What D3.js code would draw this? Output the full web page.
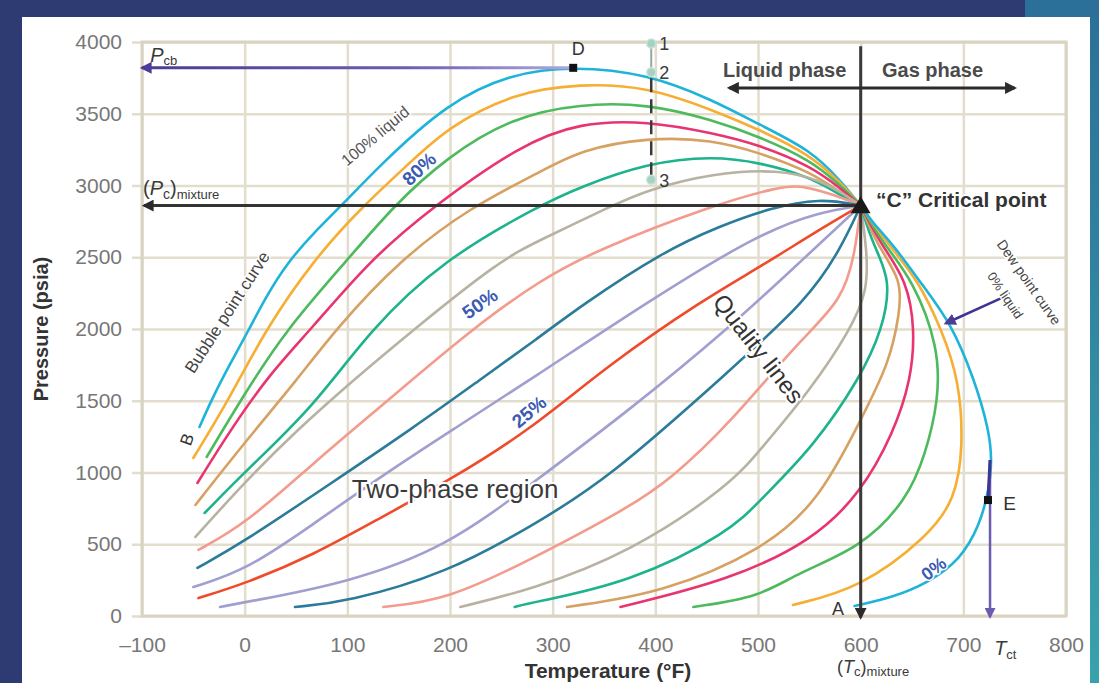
<!DOCTYPE html>
<html>
<head>
<meta charset="utf-8">
<script src="https://cdn.jsdelivr.net/npm/d3@7"></script>
<style>
  html, body { margin: 0; padding: 0; background: #2e3a72; overflow: hidden; }
  svg { display: block; font-family: "Liberation Sans", Arial, sans-serif; }
</style>
</head>
<body>
<svg id="chart" width="1099" height="683"></svg>
<script>
// ---- data (temperature in °F, pressure in psia) ----
const tempTicks = [-100, 0, 100, 200, 300, 400, 500, 600, 700, 800];
const pressTicks = [0, 500, 1000, 1500, 2000, 2500, 3000, 3500, 4000];

const critPoint = [600, 2860];
const pointD = [320, 3820];
const pointE = [724, 808];
const cricondentherm = 726;
const isoT = 396;
const isoPoints = [["1", 3990], ["2", 3790], ["3", 3040]];

// quality lines: each runs from its low end up to the critical point
const qBubble = [[-44,1317],[-31,1526],[-14,1760],[4,1993],[20,2216],[42,2467],[68,2676],[93,2850],[132,3143],[197,3575],[261,3784],[320,3830],[392,3780],[456,3596],[502,3422],[551,3248],[580,3038]];
const q02 = [[-50,1101],[-14,1526],[20,1993],[67,2481],[114,2850],[164,3178],[197,3400],[261,3645],[327,3710],[392,3690],[456,3526],[502,3387],[551,3213],[580,3024]];
const q03 = [[-37,1108],[-2,1527],[40,1993],[100,2481],[144,2850],[197,3199],[261,3477],[327,3570],[392,3570],[456,3457],[502,3338],[551,3178],[580,3004]];
const q04 = [[-46,927],[-14,1296],[25,1693],[64,1993],[122,2481],[183,2850],[268,3282],[327,3440],[392,3450],[456,3366],[502,3282],[551,3136],[580,2983]];
const q05 = [[-48,774],[2,1227],[51,1645],[88,1993],[151,2481],[220,2850],[288,3094],[327,3248],[392,3335],[456,3320],[502,3227],[551,3094],[580,2955]];
const q06 = [[-39,718],[2,1017],[67,1457],[122,1993],[193,2481],[288,2864],[327,2990],[392,3157],[456,3205],[502,3160],[551,3059],[580,2934]];
const q07 = [[-48,551],[2,948],[51,1296],[106,1645],[164,1993],[249,2481],[288,2620],[359,2864],[392,2969],[456,3087],[521,3112],[560,3038],[585,2934]];
const q08 = [[-45,460],[2,648],[67,1066],[132,1457],[220,1993],[288,2342],[343,2551],[456,2864],[521,2990],[541,3004],[575,2934]];
const q09 = [[-46,335],[2,530],[83,920],[164,1310],[229,1645],[286,1937],[327,2160],[407,2537],[463,2718],[512,2843],[560,2913]];
const q10 = [[-50,202],[2,321],[67,641],[132,969],[205,1310],[278,1645],[395,2202],[502,2669],[560,2815]];
const q11 = [[-45,125],[2,230],[67,425],[132,683],[200,948],[278,1296],[354,1749],[446,2202],[502,2432],[556,2676]];
const q12 = [[-24,63],[2,98],[100,230],[197,481],[278,913],[375,1436],[473,2014],[541,2467]];
const q13 = [[49,63],[100,98],[197,300],[278,620],[353,948],[473,1714],[548,2202],[580,2551]];
const q14 = [[135,63],[197,112],[278,390],[375,760],[414,948],[473,1345],[538,1903],[583,2202],[595,2551]];
const q15 = [[210,63],[278,181],[375,439],[473,913],[502,1157],[551,1575],[590,1993],[607,2272],[606,2551]];
const q16 = [[263,63],[278,91],[375,230],[473,585],[502,808],[554,1178],[600,1666],[621,1993],[630,2342],[612,2585]];
const q17 = [[314,63],[407,160],[505,460],[560,808],[600,1366],[628,1763],[638,2112],[640,2342],[616,2585]];
const q18 = [[366,63],[473,251],[554,530],[600,857],[632,1275],[649,1645],[653,1993],[645,2342],[620,2585]];
const q19 = [[437,63],[502,132],[538,300],[600,474],[645,808],[663,1122],[676,1505],[676,1875],[651,2342],[623,2585]];
const q20 = [[534,77],[600,195],[665,551],[692,808],[700,1178],[696,1645],[679,1993],[656,2342],[627,2585]];
const qDew = [[594,70],[632,132],[665,230],[697,390],[716,634],[725,878],[728,1087],[725,1296],[711,1645],[688,2042],[660,2307],[632,2585],[611,2746]];

const qualityLines = [qBubble, q02, q03, q04, q05, q06, q07, q08, q09, q10, q11,
                      q12, q13, q14, q15, q16, q17, q18, q19, q20, qDew];
const lineColors = ["#1eb4da", "#f6ae34", "#4dba5e", "#e83570", "#d6a163", "#1db38c", "#b8b2a2",
                    "#f39b8c", "#2b7b9a", "#a09fd0", "#ef4b2b", "#a09fd0", "#2b7b9a", "#f39b8c",
                    "#b8b2a2", "#1db38c", "#d6a163", "#e83570", "#4dba5e", "#f6ae34", "#1eb4da"];

// ---- layout ----
const svg = d3.select("#chart");
const x = d3.scaleLinear().domain([-100, 800]).range([142, 1066]);
const y = d3.scaleLinear().domain([0, 4000]).range([616, 42]);

const defs = svg.append("defs");
const teal = defs.append("linearGradient").attr("id", "teal")
  .attr("x1", 0).attr("y1", 0).attr("x2", 0).attr("y2", 1);
teal.append("stop").attr("offset", "0%").attr("stop-color", "#2b6f99");
teal.append("stop").attr("offset", "100%").attr("stop-color", "#38a2ab");

const pcbGrad = defs.append("linearGradient").attr("id", "pcbGrad")
  .attr("gradientUnits", "userSpaceOnUse")
  .attr("x1", x(-100)).attr("x2", x(pointD[0])).attr("y1", 0).attr("y2", 0);
pcbGrad.append("stop").attr("offset", "0%").attr("stop-color", "#4a3c98");
pcbGrad.append("stop").attr("offset", "60%").attr("stop-color", "#6a5cae");
pcbGrad.append("stop").attr("offset", "100%").attr("stop-color", "#b3a8d8");

const arrow = (id, color, s) => {
  defs.append("marker").attr("id", id)
    .attr("viewBox", "0 0 10 10").attr("refX", 8).attr("refY", 5)
    .attr("markerUnits", "userSpaceOnUse")
    .attr("markerWidth", s).attr("markerHeight", s)
    .attr("orient", "auto-start-reverse")
    .append("path").attr("d", "M0,0 L10,5 L0,10 z").attr("fill", color);
};
arrow("arBlack", "#2b2b2b", 12);
arrow("arPurple", "#4a3c98", 12);
arrow("arViolet", "#6a5cae", 11);

// background panels
svg.append("rect").attr("x", 1025).attr("y", 0).attr("width", 74).attr("height", 683).attr("fill", "url(#teal)");
svg.append("rect").attr("x", 22).attr("y", 17).attr("width", 1068).attr("height", 666).attr("fill", "#ffffff");

// grid
const grid = svg.append("g");
grid.append("g")
  .attr("transform", `translate(0,${y(0)})`)
  .call(d3.axisBottom(x).tickValues(tempTicks).tickSize(-(y(0) - y(4000))).tickFormat(""))
  .call(g => g.select(".domain").remove());
grid.append("g")
  .attr("transform", `translate(${x(-100) - 10},0)`)
  .call(d3.axisLeft(y).tickValues(pressTicks).tickSize(-(x(800) - x(-100)) - 10).tickFormat(""))
  .call(g => g.select(".domain").remove());
grid.selectAll("line").attr("stroke", "#e2ddcd").attr("stroke-width", 2.5);
grid.append("rect")
  .attr("x", x(-100)).attr("y", y(4000))
  .attr("width", x(800) - x(-100)).attr("height", y(0) - y(4000))
  .attr("fill", "none").attr("stroke", "#d9d3c2").attr("stroke-width", 3);

// tick labels
const xAx = svg.append("g")
  .attr("transform", `translate(0,${y(0)})`)
  .call(d3.axisBottom(x).tickValues(tempTicks).tickSize(0).tickPadding(21).tickFormat(d3.format("d")));
const yAx = svg.append("g")
  .attr("transform", `translate(${x(-100) - 20},0)`)
  .call(d3.axisLeft(y).tickValues(pressTicks).tickSize(0).tickPadding(0).tickFormat(d3.format("d")));
xAx.selectAll("text").text(d => d < 0 ? "\u2013" + Math.abs(d) : d);
[xAx, yAx].forEach(a => {
  a.select(".domain").remove();
  a.selectAll("text")
    .style("font-family", "'Liberation Sans', Arial, sans-serif")
    .style("font-size", "21px")
    .attr("fill", "#777");
});

// quality lines
const line = d3.line()
  .x(d => x(d[0]))
  .y(d => y(d[1]))
  .curve(d3.curveBasis);

svg.append("g")
  .selectAll("path")
  .data(qualityLines)
  .join("path")
  .attr("d", d => line([...d, critPoint]))
  .attr("fill", "none")
  .attr("stroke", (d, i) => lineColors[i])
  .attr("stroke-width", 2.6)
  .attr("stroke-linecap", "round");

// ---- annotations ----
const ann = svg.append("g");

// cricondenbar line
ann.append("line")
  .attr("x1", x(pointD[0])).attr("y1", y(pointD[1]))
  .attr("x2", x(-100)).attr("y2", y(pointD[1]))
  .attr("stroke", "url(#pcbGrad)").attr("stroke-width", 3)
  .attr("marker-end", "url(#arPurple)");

// (Pc)mixture line
ann.append("line")
  .attr("x1", x(critPoint[0])).attr("y1", y(critPoint[1]))
  .attr("x2", x(-98)).attr("y2", y(critPoint[1]))
  .attr("stroke", "#333").attr("stroke-width", 3)
  .attr("marker-end", "url(#arBlack)");

// Tc vertical line
ann.append("line")
  .attr("x1", x(critPoint[0])).attr("y1", y(3970))
  .attr("x2", x(critPoint[0])).attr("y2", y(-10))
  .attr("stroke", "#3a3a3a").attr("stroke-width", 3)
  .attr("marker-end", "url(#arBlack)");

// liquid / gas phase arrow
ann.append("line")
  .attr("x1", x(472)).attr("y1", y(3680))
  .attr("x2", x(750)).attr("y2", y(3680))
  .attr("stroke", "#2b2b2b").attr("stroke-width", 3)
  .attr("marker-start", "url(#arBlack)")
  .attr("marker-end", "url(#arBlack)");

// isobaric points 1-2-3
ann.append("line")
  .attr("x1", x(isoT)).attr("y1", y(isoPoints[0][1]))
  .attr("x2", x(isoT)).attr("y2", y(isoPoints[1][1]))
  .attr("stroke", "#9aa6a0").attr("stroke-width", 2);
ann.append("line")
  .attr("x1", x(isoT)).attr("y1", y(isoPoints[1][1]) + 6)
  .attr("x2", x(isoT)).attr("y2", y(isoPoints[2][1]) - 4)
  .attr("stroke", "#3a3a3a").attr("stroke-width", 2.5)
  .attr("stroke-dasharray", "14,7");
ann.selectAll("circle.iso")
  .data(isoPoints)
  .join("circle")
  .attr("class", "iso")
  .attr("cx", x(isoT)).attr("cy", d => y(d[1]))
  .attr("r", 4.5)
  .attr("fill", "#a6d2c2").attr("stroke", "#c9e3d8").attr("stroke-width", 1.5);
ann.selectAll("text.iso")
  .data(isoPoints)
  .join("text")
  .attr("class", "iso")
  .attr("x", x(isoT) + 8).attr("y", d => y(d[1]) + 7)
  .attr("font-size", 18).attr("fill", "#3a3a3a")
  .text(d => d[0]);

// Tct line
ann.append("line")
  .attr("x1", x(cricondentherm)).attr("y1", y(1087))
  .attr("x2", x(cricondentherm)).attr("y2", y(-5))
  .attr("stroke", "#6a5cae").attr("stroke-width", 2.5)
  .attr("marker-end", "url(#arViolet)");
ann.append("line")
  .attr("x1", x(cricondentherm)).attr("y1", y(1087))
  .attr("x2", x(pointE[0])).attr("y2", y(pointE[1]))
  .attr("stroke", "#3d3494").attr("stroke-width", 3);

// dew point arrow
ann.append("line")
  .attr("x1", x(737)).attr("y1", y(2215))
  .attr("x2", x(683)).attr("y2", y(2040))
  .attr("stroke", "#3d3494").attr("stroke-width", 2.5)
  .attr("marker-end", "url(#arPurple)");

// point markers
ann.append("rect")
  .attr("x", x(pointD[0]) - 4).attr("y", y(pointD[1]) - 4)
  .attr("width", 8).attr("height", 8).attr("fill", "#111");
ann.append("rect")
  .attr("x", x(pointE[0]) - 4).attr("y", y(pointE[1]) - 4)
  .attr("width", 8).attr("height", 8).attr("fill", "#111");
ann.append("path")
  .attr("d", d3.symbol(d3.symbolTriangle, 170)())
  .attr("transform", `translate(${x(critPoint[0])},${y(critPoint[1]) + 2})`)
  .attr("fill", "#1a1a1a");

// ---- text labels ----
const txt = (T, P, s, o = {}) => {
  const t = ann.append("text")
    .attr("transform", `translate(${x(T)},${y(P)}) rotate(${o.rot || 0})`)
    .attr("text-anchor", o.anchor || "middle")
    .attr("dominant-baseline", o.base || "auto")
    .attr("font-size", o.size || 15)
    .attr("font-weight", o.weight || "normal")
    .attr("font-style", o.style || "normal")
    .attr("fill", o.fill || "#3a3a3a")
    .text(s);
  if (o.halo) {
    t.attr("stroke", "#fff").attr("stroke-width", o.halo)
      .attr("paint-order", "stroke").attr("stroke-linejoin", "round");
  }
  return t;
};

txt(526, 3756, "Liquid phase", { size: 20, weight: "bold", fill: "#4a4a4a" });
txt(670, 3756, "Gas phase", { size: 20, weight: "bold", fill: "#4a4a4a" });
txt(615, 2850, "\u201CC\u201D Critical point", { size: 21, weight: "bold", anchor: "start", fill: "#333", halo: 4 });
txt(205, 822, "Two-phase region", { size: 26, fill: "#3a3a3a", halo: 4 });
txt(499, 1854, "Quality lines", { size: 24, rot: 52, fill: "#333", base: "middle", halo: 4 });
txt(128, 3338, "100% liquid", { size: 16, rot: -40, fill: "#555", base: "middle", halo: 3 });
txt(-16, 2112, "Bubble point curve", { size: 17, rot: -57, fill: "#444", base: "middle", halo: 3 });
txt(-55, 1227, "B", { size: 17, rot: -70, fill: "#333", base: "middle" });
txt(325, 3944, "D", { size: 18, fill: "#333", base: "middle" });
txt(745, 774, "E", { size: 19, fill: "#333", base: "middle" });
txt(578, 42, "A", { size: 18, fill: "#333", base: "middle" });

const blue = { size: 19, weight: "bold", fill: "#3b5bb2", base: "middle", halo: 3 };
txt(171, 3108, "80%", { ...blue, rot: -43 });
txt(230, 2167, "50%", { ...blue, rot: -35 });
txt(278, 1415, "25%", { ...blue, rot: -40 });
txt(672, 321, "0%", { ...blue, size: 18, rot: -37 });

txt(763, 2321, "Dew point curve", { size: 14, rot: 55, fill: "#444", base: "middle", halo: 3 });
txt(740, 2230, "0% liquid", { size: 13, rot: 56, fill: "#444", base: "middle", halo: 3 });

// Pcb
const pcbLab = txt(-92, 3861, "", { anchor: "start", size: 20, fill: "#3a3a3a" });
pcbLab.append("tspan").attr("font-style", "italic").text("P");
pcbLab.append("tspan").attr("font-size", 13).attr("dy", 3).text("cb");

// (Pc)mixture
const pcLab = txt(-99, 2934, "", { anchor: "start", size: 20, fill: "#3a3a3a" });
pcLab.append("tspan").text("(");
pcLab.append("tspan").attr("font-style", "italic").text("P");
pcLab.append("tspan").attr("font-size", 14).attr("dy", 4).text("c");
pcLab.append("tspan").attr("dy", -4).text(")");
pcLab.append("tspan").attr("font-size", 13).attr("dy", 4).text("mixture");

// Tct
const tctLab = txt(730, -272, "", { anchor: "start", size: 20, fill: "#3a3a3a" });
tctLab.append("tspan").attr("font-style", "italic").text("T");
tctLab.append("tspan").attr("font-size", 13).attr("dy", 4).text("ct");

// (Tc)mixture
const tcLab = txt(577, -400, "", { anchor: "start", size: 18, fill: "#3a3a3a" });
tcLab.append("tspan").text("(");
tcLab.append("tspan").attr("font-style", "italic").text("T");
tcLab.append("tspan").attr("font-size", 13).attr("dy", 3).text("c");
tcLab.append("tspan").attr("dy", -3).text(")");
tcLab.append("tspan").attr("font-size", 13).attr("dy", 3).text("mixture");

// axis titles
svg.append("text")
  .attr("transform", `translate(48,${(y(0) + y(4000)) / 2}) rotate(-90)`)
  .attr("text-anchor", "middle")
  .attr("font-size", 20).attr("font-weight", "bold").attr("fill", "#333")
  .text("Pressure (psia)");
svg.append("text")
  .attr("x", 608).attr("y", 678)
  .attr("text-anchor", "middle")
  .attr("font-size", 21).attr("font-weight", "bold").attr("fill", "#333")
  .text("Temperature (\u00B0F)");
</script>
</body>
</html>
